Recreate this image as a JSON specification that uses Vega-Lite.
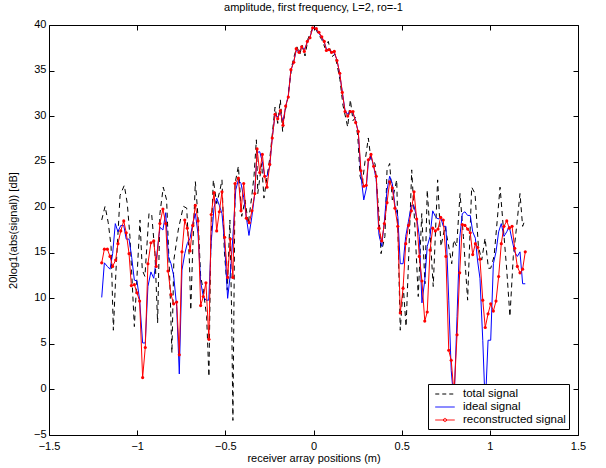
{
  "$schema": "https://vega.github.io/schema/vega-lite/v6.json",
  "width": 529,
  "height": 410,
  "autosize": {"type": "none"},
  "padding": {"left": 49, "top": 25, "right": 28, "bottom": 33},
  "background": "white",
  "title": {"text": "amplitude, first frequency, L=2, ro=-1", "font": "Liberation Sans", "fontSize": 11, "fontWeight": "normal", "color": "black", "offset": 5},
  "config": {
    "view": {"stroke": "black", "strokeWidth": 1},
    "axis": {"labelFont": "Liberation Sans", "titleFont": "Liberation Sans", "labelFontSize": 11, "titleFontSize": 11, "titleFontWeight": "normal", "labelColor": "black", "titleColor": "black", "grid": false, "domain": false, "tickColor": "black", "tickSize": -5, "tickWidth": 1}
  },
  "datasets": {
    "total": [
      {"x":-1.201,"y":18.6},{"x":-1.182,"y":20.1},{"x":-1.164,"y":18.3},{"x":-1.148,"y":15.7},{"x":-1.135,"y":6.5},{"x":-1.12,"y":13.1},{"x":-1.097,"y":21.3},{"x":-1.073,"y":22.4},{"x":-1.056,"y":20.4},{"x":-1.041,"y":16.8},{"x":-1.016,"y":6.9},{"x":-0.999,"y":13.1},{"x":-0.984,"y":18.6},{"x":-0.971,"y":13.1},{"x":-0.956,"y":12.4},{"x":-0.933,"y":19.3},{"x":-0.918,"y":19.3},{"x":-0.899,"y":14.9},{"x":-0.884,"y":7.3},{"x":-0.871,"y":19.3},{"x":-0.852,"y":22.2},{"x":-0.833,"y":20.8},{"x":-0.815,"y":12.0},{"x":-0.803,"y":4.0},{"x":-0.792,"y":14.2},{"x":-0.767,"y":17.5},{"x":-0.738,"y":20.1},{"x":-0.719,"y":19.9},{"x":-0.704,"y":14.2},{"x":-0.696,"y":8.7},{"x":-0.685,"y":15.3},{"x":-0.67,"y":22.8},{"x":-0.655,"y":19.0},{"x":-0.64,"y":12.4},{"x":-0.625,"y":10.9},{"x":-0.606,"y":8.0},{"x":-0.593,"y":1.4},{"x":-0.583,"y":15.3},{"x":-0.568,"y":23.0},{"x":-0.549,"y":20.4},{"x":-0.53,"y":21.9},{"x":-0.519,"y":23.0},{"x":-0.506,"y":15.3},{"x":-0.489,"y":10.9},{"x":-0.474,"y":18.6},{"x":-0.464,"y":8.0},{"x":-0.457,"y":-3.4},{"x":-0.445,"y":22.6},{"x":-0.426,"y":24.5},{"x":-0.407,"y":19.0},{"x":-0.388,"y":20.8},{"x":-0.37,"y":18.2},{"x":-0.35,"y":21.2},{"x":-0.337,"y":23.5},{"x":-0.324,"y":27.4},{"x":-0.316,"y":21.5},{"x":-0.294,"y":24.8},{"x":-0.281,"y":21.0},{"x":-0.266,"y":23.0},{"x":-0.247,"y":25.5},{"x":-0.234,"y":28.0},{"x":-0.218,"y":31.0},{"x":-0.203,"y":29.2},{"x":-0.188,"y":31.8},{"x":-0.175,"y":28.3},{"x":-0.162,"y":30.5},{"x":-0.149,"y":31.5},{"x":-0.124,"y":35.4},{"x":-0.111,"y":36.5},{"x":-0.094,"y":37.6},{"x":-0.077,"y":36.8},{"x":-0.065,"y":37.8},{"x":-0.048,"y":36.6},{"x":-0.031,"y":38.5},{"x":-0.009,"y":39.5},{"x":0.009,"y":39.8},{"x":0.026,"y":39.0},{"x":0.047,"y":38.4},{"x":0.065,"y":37.5},{"x":0.084,"y":38.2},{"x":0.103,"y":36.5},{"x":0.122,"y":36.8},{"x":0.15,"y":34.0},{"x":0.167,"y":31.2},{"x":0.194,"y":28.8},{"x":0.209,"y":31.8},{"x":0.224,"y":29.5},{"x":0.239,"y":29.9},{"x":0.252,"y":27.5},{"x":0.264,"y":23.4},{"x":0.277,"y":22.6},{"x":0.292,"y":25.0},{"x":0.311,"y":27.6},{"x":0.326,"y":25.2},{"x":0.349,"y":24.8},{"x":0.371,"y":19.3},{"x":0.383,"y":14.9},{"x":0.405,"y":16.8},{"x":0.417,"y":24.1},{"x":0.432,"y":24.8},{"x":0.447,"y":20.8},{"x":0.472,"y":23.0},{"x":0.492,"y":6.5},{"x":0.509,"y":11.3},{"x":0.525,"y":6.9},{"x":0.542,"y":15.7},{"x":0.557,"y":24.1},{"x":0.576,"y":17.5},{"x":0.594,"y":10.2},{"x":0.614,"y":19.3},{"x":0.632,"y":11.6},{"x":0.645,"y":21.9},{"x":0.661,"y":17.1},{"x":0.679,"y":11.3},{"x":0.704,"y":23.0},{"x":0.723,"y":15.7},{"x":0.746,"y":17.9},{"x":0.764,"y":16.0},{"x":0.784,"y":13.8},{"x":0.795,"y":16.4},{"x":0.812,"y":15.7},{"x":0.831,"y":21.5},{"x":0.85,"y":16.8},{"x":0.874,"y":9.8},{"x":0.897,"y":22.2},{"x":0.916,"y":21.5},{"x":0.935,"y":15.7},{"x":0.954,"y":14.2},{"x":0.973,"y":16.6},{"x":0.992,"y":13.3},{"x":1.005,"y":13.3},{"x":1.024,"y":14.6},{"x":1.039,"y":17.9},{"x":1.058,"y":22.2},{"x":1.076,"y":17.9},{"x":1.096,"y":13.1},{"x":1.114,"y":8.0},{"x":1.133,"y":14.6},{"x":1.152,"y":17.9},{"x":1.171,"y":21.5},{"x":1.186,"y":17.9},{"x":1.199,"y":18.6}
    ],
    "ideal": [
      {"x":-1.201,"y":10.1},{"x":-1.186,"y":13.9},{"x":-1.169,"y":13.5},{"x":-1.154,"y":13.2},{"x":-1.139,"y":14.9},{"x":-1.124,"y":18.2},{"x":-1.109,"y":17.3},{"x":-1.093,"y":18.0},{"x":-1.076,"y":18.0},{"x":-1.062,"y":16.5},{"x":-1.046,"y":16.5},{"x":-1.031,"y":14.5},{"x":-1.016,"y":12.0},{"x":-1.001,"y":11.9},{"x":-0.986,"y":9.8},{"x":-0.969,"y":5.1},{"x":-0.954,"y":5.1},{"x":-0.939,"y":11.3},{"x":-0.922,"y":12.9},{"x":-0.906,"y":12.2},{"x":-0.892,"y":14.2},{"x":-0.871,"y":17.8},{"x":-0.854,"y":17.5},{"x":-0.838,"y":19.4},{"x":-0.823,"y":14.6},{"x":-0.808,"y":13.8},{"x":-0.793,"y":12.5},{"x":-0.776,"y":9.1},{"x":-0.761,"y":1.7},{"x":-0.746,"y":13.1},{"x":-0.73,"y":14.9},{"x":-0.716,"y":16.0},{"x":-0.7,"y":16.6},{"x":-0.685,"y":18.2},{"x":-0.67,"y":19.3},{"x":-0.655,"y":17.1},{"x":-0.64,"y":11.8},{"x":-0.625,"y":10.2},{"x":-0.61,"y":9.8},{"x":-0.594,"y":9.8},{"x":-0.58,"y":16.2},{"x":-0.564,"y":20.0},{"x":-0.549,"y":21.0},{"x":-0.534,"y":20.2},{"x":-0.519,"y":19.3},{"x":-0.504,"y":16.0},{"x":-0.487,"y":10.0},{"x":-0.472,"y":12.6},{"x":-0.457,"y":16.8},{"x":-0.441,"y":21.9},{"x":-0.426,"y":23.0},{"x":-0.411,"y":22.6},{"x":-0.396,"y":21.1},{"x":-0.381,"y":18.9},{"x":-0.366,"y":16.9},{"x":-0.35,"y":18.9},{"x":-0.335,"y":21.2},{"x":-0.32,"y":26.0},{"x":-0.305,"y":26.1},{"x":-0.29,"y":25.0},{"x":-0.277,"y":23.4},{"x":-0.264,"y":23.4},{"x":-0.248,"y":24.5},{"x":-0.234,"y":27.6},{"x":-0.218,"y":30.2},{"x":-0.203,"y":29.9},{"x":-0.188,"y":30.4},{"x":-0.173,"y":29.4},{"x":-0.158,"y":31.0},{"x":-0.143,"y":32.3},{"x":-0.128,"y":35.0},{"x":-0.112,"y":36.0},{"x":-0.098,"y":37.2},{"x":-0.082,"y":37.1},{"x":-0.067,"y":37.5},{"x":-0.052,"y":37.3},{"x":-0.035,"y":38.1},{"x":-0.02,"y":38.7},{"x":-0.005,"y":39.6},{"x":0.009,"y":39.7},{"x":0.024,"y":39.3},{"x":0.047,"y":38.6},{"x":0.061,"y":38.1},{"x":0.073,"y":37.4},{"x":0.088,"y":37.2},{"x":0.103,"y":37.1},{"x":0.118,"y":36.9},{"x":0.133,"y":36.2},{"x":0.149,"y":34.6},{"x":0.163,"y":32.7},{"x":0.179,"y":30.6},{"x":0.194,"y":30.2},{"x":0.209,"y":30.6},{"x":0.224,"y":30.3},{"x":0.239,"y":29.5},{"x":0.254,"y":28.2},{"x":0.269,"y":23.5},{"x":0.285,"y":20.8},{"x":0.299,"y":22.0},{"x":0.311,"y":25.0},{"x":0.326,"y":25.6},{"x":0.341,"y":24.5},{"x":0.356,"y":23.0},{"x":0.371,"y":17.0},{"x":0.387,"y":15.7},{"x":0.402,"y":18.5},{"x":0.417,"y":21.9},{"x":0.432,"y":23.4},{"x":0.447,"y":22.6},{"x":0.462,"y":20.2},{"x":0.478,"y":19.0},{"x":0.492,"y":13.8},{"x":0.508,"y":13.8},{"x":0.523,"y":16.8},{"x":0.538,"y":18.4},{"x":0.555,"y":20.2},{"x":0.57,"y":20.1},{"x":0.585,"y":18.9},{"x":0.6,"y":16.8},{"x":0.615,"y":9.5},{"x":0.631,"y":12.0},{"x":0.645,"y":15.7},{"x":0.661,"y":16.8},{"x":0.676,"y":19.6},{"x":0.691,"y":19.0},{"x":0.706,"y":18.7},{"x":0.721,"y":18.9},{"x":0.736,"y":17.9},{"x":0.751,"y":17.9},{"x":0.767,"y":9.8},{"x":0.781,"y":2.1},{"x":0.797,"y":-1.5},{"x":0.814,"y":8.0},{"x":0.829,"y":16.6},{"x":0.844,"y":19.3},{"x":0.859,"y":19.5},{"x":0.874,"y":19.1},{"x":0.889,"y":19.1},{"x":0.903,"y":17.3},{"x":0.918,"y":16.6},{"x":0.93,"y":14.2},{"x":0.944,"y":12.2},{"x":0.96,"y":5.4},{"x":0.974,"y":-2.0},{"x":0.99,"y":5.4},{"x":1.005,"y":5.4},{"x":1.02,"y":13.8},{"x":1.035,"y":15.1},{"x":1.05,"y":17.3},{"x":1.065,"y":18.2},{"x":1.08,"y":16.8},{"x":1.096,"y":17.3},{"x":1.11,"y":17.9},{"x":1.126,"y":16.4},{"x":1.141,"y":15.1},{"x":1.156,"y":14.6},{"x":1.171,"y":15.1},{"x":1.186,"y":11.6},{"x":1.201,"y":11.6}
    ],
    "recon": [
      {"x":-1.201,"y":13.9},{"x":-1.186,"y":15.4},{"x":-1.169,"y":15.4},{"x":-1.154,"y":14.6},{"x":-1.139,"y":13.5},{"x":-1.122,"y":14.2},{"x":-1.109,"y":16.0},{"x":-1.093,"y":17.4},{"x":-1.076,"y":18.5},{"x":-1.062,"y":17.2},{"x":-1.046,"y":14.9},{"x":-1.033,"y":11.4},{"x":-1.016,"y":11.5},{"x":-1.001,"y":10.6},{"x":-0.986,"y":9.7},{"x":-0.969,"y":1.3},{"x":-0.954,"y":4.6},{"x":-0.939,"y":13.8},{"x":-0.922,"y":16.1},{"x":-0.906,"y":16.3},{"x":-0.892,"y":13.5},{"x":-0.871,"y":18.2},{"x":-0.854,"y":19.8},{"x":-0.838,"y":18.2},{"x":-0.825,"y":13.0},{"x":-0.808,"y":10.4},{"x":-0.793,"y":9.4},{"x":-0.776,"y":9.6},{"x":-0.761,"y":3.8},{"x":-0.746,"y":15.1},{"x":-0.73,"y":18.6},{"x":-0.716,"y":17.7},{"x":-0.7,"y":15.2},{"x":-0.685,"y":18.0},{"x":-0.67,"y":20.2},{"x":-0.655,"y":18.5},{"x":-0.64,"y":9.2},{"x":-0.625,"y":10.2},{"x":-0.61,"y":11.7},{"x":-0.593,"y":5.5},{"x":-0.58,"y":19.2},{"x":-0.564,"y":21.6},{"x":-0.549,"y":17.4},{"x":-0.534,"y":19.5},{"x":-0.519,"y":21.7},{"x":-0.504,"y":16.7},{"x":-0.487,"y":12.3},{"x":-0.472,"y":16.5},{"x":-0.457,"y":12.3},{"x":-0.445,"y":22.6},{"x":-0.426,"y":23.2},{"x":-0.411,"y":19.6},{"x":-0.396,"y":22.6},{"x":-0.381,"y":18.8},{"x":-0.364,"y":18.3},{"x":-0.349,"y":19.6},{"x":-0.333,"y":21.5},{"x":-0.32,"y":26.4},{"x":-0.305,"y":23.8},{"x":-0.29,"y":25.8},{"x":-0.277,"y":23.4},{"x":-0.264,"y":22.2},{"x":-0.248,"y":24.7},{"x":-0.234,"y":27.6},{"x":-0.218,"y":30.2},{"x":-0.203,"y":29.7},{"x":-0.188,"y":30.6},{"x":-0.173,"y":29.0},{"x":-0.158,"y":31.1},{"x":-0.143,"y":32.1},{"x":-0.128,"y":35.1},{"x":-0.112,"y":35.9},{"x":-0.098,"y":37.4},{"x":-0.082,"y":37.0},{"x":-0.067,"y":37.6},{"x":-0.052,"y":37.1},{"x":-0.035,"y":38.2},{"x":-0.02,"y":38.6},{"x":-0.005,"y":39.7},{"x":0.016,"y":39.6},{"x":0.031,"y":39.2},{"x":0.047,"y":38.7},{"x":0.061,"y":38.2},{"x":0.073,"y":37.2},{"x":0.088,"y":37.3},{"x":0.103,"y":37.0},{"x":0.118,"y":37.1},{"x":0.133,"y":36.1},{"x":0.149,"y":34.7},{"x":0.163,"y":32.6},{"x":0.179,"y":30.5},{"x":0.194,"y":30.0},{"x":0.209,"y":30.5},{"x":0.224,"y":30.5},{"x":0.239,"y":29.3},{"x":0.254,"y":28.3},{"x":0.269,"y":24.0},{"x":0.285,"y":22.3},{"x":0.299,"y":22.4},{"x":0.311,"y":25.2},{"x":0.326,"y":25.8},{"x":0.341,"y":24.5},{"x":0.356,"y":23.4},{"x":0.371,"y":17.7},{"x":0.387,"y":16.3},{"x":0.402,"y":18.2},{"x":0.417,"y":20.5},{"x":0.432,"y":22.8},{"x":0.447,"y":22.1},{"x":0.462,"y":19.9},{"x":0.478,"y":17.9},{"x":0.492,"y":8.4},{"x":0.508,"y":11.1},{"x":0.523,"y":16.0},{"x":0.539,"y":18.0},{"x":0.555,"y":19.6},{"x":0.57,"y":21.7},{"x":0.585,"y":18.7},{"x":0.6,"y":14.6},{"x":0.615,"y":11.9},{"x":0.631,"y":7.5},{"x":0.645,"y":8.5},{"x":0.661,"y":15.3},{"x":0.676,"y":17.7},{"x":0.691,"y":17.4},{"x":0.706,"y":17.6},{"x":0.721,"y":18.9},{"x":0.736,"y":18.6},{"x":0.751,"y":14.6},{"x":0.767,"y":4.3},{"x":0.781,"y":3.2},{"x":0.797,"y":-0.5},{"x":0.814,"y":6.0},{"x":0.829,"y":12.8},{"x":0.844,"y":18.1},{"x":0.859,"y":18.0},{"x":0.874,"y":17.6},{"x":0.889,"y":17.2},{"x":0.903,"y":14.8},{"x":0.918,"y":16.0},{"x":0.931,"y":15.6},{"x":0.944,"y":14.3},{"x":0.96,"y":9.8},{"x":0.974,"y":6.8},{"x":0.99,"y":8.3},{"x":1.005,"y":9.4},{"x":1.02,"y":8.6},{"x":1.035,"y":9.7},{"x":1.05,"y":12.4},{"x":1.065,"y":16.0},{"x":1.08,"y":17.9},{"x":1.096,"y":18.5},{"x":1.11,"y":17.7},{"x":1.126,"y":17.9},{"x":1.141,"y":15.5},{"x":1.156,"y":13.5},{"x":1.171,"y":12.8},{"x":1.186,"y":13.2},{"x":1.201,"y":15.1}
    ],
    "legend": [
      {"s":"total signal"},{"s":"ideal signal"},{"s":"reconstructed signal"}
    ]
  },
  "layer": [
    {
      "data": {"name": "total"},
      "mark": {"type": "line", "color": "black", "strokeWidth": 1, "strokeDash": [5, 4], "clip": true},
      "encoding": {
        "x": {"field": "x", "type": "quantitative", "scale": {"domain": [-1.5, 1.5], "nice": false, "zero": false}, "axis": {"values": [-1.5, -1, -0.5, 0, 0.5, 1, 1.5], "title": "receiver array positions (m)", "labelPadding": 10, "titlePadding": 1, "format": "~g", "labelFlush": false}},
        "y": {"field": "y", "type": "quantitative", "scale": {"domain": [-5, 40], "nice": false, "zero": false}, "axis": {"values": [-5, 0, 5, 10, 15, 20, 25, 30, 35, 40], "title": "20log1(abs(signal)) [dB]", "labelPadding": 8, "labelOffset": -1, "titlePadding": 15, "labelFlush": false}}
      }
    },
    {
      "data": {"name": "ideal"},
      "mark": {"type": "line", "color": "#0000ff", "strokeWidth": 1, "clip": true},
      "encoding": {
        "x": {"field": "x", "type": "quantitative", "axis": null},
        "y": {"field": "y", "type": "quantitative", "axis": null}
      }
    },
    {
      "data": {"name": "recon"},
      "mark": {"type": "line", "color": "#ff0000", "strokeWidth": 1, "clip": true, "point": {"filled": true, "size": 10, "color": "#ff0000"}},
      "encoding": {
        "x": {"field": "x", "type": "quantitative", "axis": null},
        "y": {"field": "y", "type": "quantitative", "axis": null}
      }
    },
    {
      "data": {"name": "legend"},
      "mark": {"type": "point", "opacity": 0, "filled": false, "size": 169, "strokeWidth": 1},
      "encoding": {
        "x": {"datum": 0, "type": "quantitative", "axis": {"orient": "top", "labels": false, "title": null, "values": [-1.5, -1, -0.5, 0, 0.5, 1, 1.5]}},
        "y": {"datum": 0, "type": "quantitative", "axis": {"orient": "right", "labels": false, "title": null, "values": [-5, 0, 5, 10, 15, 20, 25, 30, 35, 40]}},
        "color": {"field": "s", "type": "nominal", "scale": {"domain": ["total signal", "ideal signal", "reconstructed signal"], "range": ["black", "#0000ff", "#ff0000"]},
          "legend": {"title": null, "orient": "none", "legendX": 379, "legendY": 359, "strokeColor": "black", "fillColor": "white", "padding": 3, "symbolOffset": 7, "symbolSize": 169, "symbolStrokeWidth": 1, "labelFont": "Liberation Sans", "labelFontSize": 11.5, "labelColor": "black", "labelOffset": 11, "rowPadding": 0, "symbolOpacity": 1}},
        "shape": {"field": "s", "type": "nominal", "scale": {"domain": ["total signal", "ideal signal", "reconstructed signal"], "range": ["M-1.5,0H1.5", "M-1.5,0H1.5", "M-1.5,0H1.5M-0.25,0A0.25,0.25 0 1,0 0.25,0A0.25,0.25 0 1,0 -0.25,0"]}, "legend": {"title": null, "orient": "none", "legendX": 379, "legendY": 359}},
        "strokeDash": {"field": "s", "type": "nominal", "scale": {"domain": ["total signal", "ideal signal", "reconstructed signal"], "range": [[4, 3], [1, 0], [1, 0]]}, "legend": {"title": null, "orient": "none", "legendX": 379, "legendY": 359}}
      }
    }
  ],
  "resolve": {"axis": {"x": "independent", "y": "independent"}}
}
